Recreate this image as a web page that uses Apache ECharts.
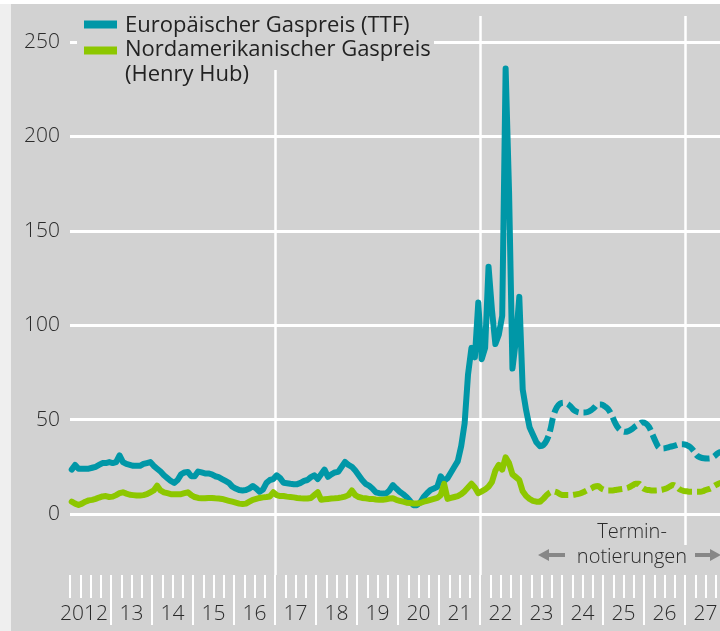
<!DOCTYPE html>
<html>
<head>
<meta charset="utf-8">
<script src="https://cdn.jsdelivr.net/npm/echarts@6/dist/echarts.min.js"></script>
<style>
  html, body { margin: 0; padding: 0; background: #d2d2d2; }
  #chart { width: 720px; height: 631px; }
</style>
</head>
<body>
<div id="chart"></div>
<script>
// monthly values, first point = Jan 2012
const startYear = 2012
// Europäischer Gaspreis (TTF), Jan 2012 - Jun 2023
const ttfHist = [
  23.5, 26, 24, 24, 24, 24, 24.5, 25, 26, 27, 27, 27.5,
  27, 27.5, 31, 27.5, 26.5, 26, 25.5, 25.5, 25.5, 26.5, 27, 27.5,
  25.5, 24, 22.5, 20.5, 19, 17.5, 16.5, 18, 21, 22, 22.3, 20,
  20, 22.5, 22, 21.5, 21.5, 21, 20, 19.5, 18.5, 17.5, 16.5, 14.5,
  13.5, 12.7, 12.5, 12.7, 13.5, 14.8, 13.5, 11.8, 13, 16.5, 18, 18.5,
  20.5, 19, 16.5, 16.3, 16, 15.8, 15.8, 16.5, 17.5, 18, 19.5, 20.5,
  18.5, 21, 23.5, 19.7, 21, 22, 22.3, 25, 27.6, 26, 25, 23,
  20.5, 18, 16, 15, 13.5, 11.5, 11, 10.8, 10.9, 12.5, 15.3, 13.5,
  11.8, 10.5, 9, 7, 4.7, 4.7, 6, 9, 11, 12.7, 13.5, 14.4,
  20, 17.5, 19, 22, 25, 28, 36, 48, 74, 88, 83, 112,
  82, 88, 131, 108, 90, 95, 105, 236, 171, 77, 92, 115,
  66, 55, 46, 42, 38, 36
]
// Nordamerikanischer Gaspreis (Henry Hub), Jan 2012 - Jun 2023
const hhHist = [
  6.5, 5.5, 4.8, 5.5, 6.5, 7.2, 7.5, 8, 8.7, 9.3, 9.5, 9,
  9.2, 10, 11, 11.5, 10.8, 10.2, 10, 9.8, 9.8, 10, 10.5, 11.5,
  12.5, 15, 12.5, 11.5, 11, 10.5, 10.5, 10.5, 10.5, 11, 11.5, 10,
  9, 8.5, 8.3, 8.3, 8.5, 8.5, 8.3, 8.2, 8, 7.5, 7, 6.5,
  6, 5.5, 5.3, 5.5, 6.5, 7.5, 8, 8.5, 8.8, 9, 9.3, 11.5,
  10, 9.5, 9.5, 9.2, 9, 8.8, 8.5, 8.3, 8.2, 8.2, 8.5, 10,
  11.5, 7.5, 7.8, 8, 8.2, 8.3, 8.5, 8.8, 9.2, 10, 12.5, 10,
  9, 8.5, 8.3, 8, 8, 7.7, 7.5, 7.5, 7.8, 8.2, 8.3, 7.5,
  7, 6.5, 6, 5.8, 5.6, 5.6, 5.8, 6.5, 7, 7.5, 8, 8.5,
  10, 16, 8, 8.5, 9, 9.5, 10.5, 12, 14, 16, 14, 11,
  12, 13, 14.5, 17, 23, 26, 23.5, 30, 27, 21, 19.5, 18,
  12, 9.5, 8, 7, 6.5, 6.5
]
// Terminnotierungen, Jun 2023 - Nov 2027
const fwdStart = 137
const ttfFwd = [
  36, 36.5, 39, 44, 52, 56.5, 58.5,
  59, 58.5, 57, 55, 54, 53.7, 53.7, 54, 55, 56.5, 58, 58,
  57, 55.5, 52.5, 48.5, 45.5, 44, 43.5, 44, 45, 46.5, 47.5, 48.5,
  48, 46, 42, 38, 35, 34.7, 35, 35.5, 36, 36.5, 37, 37,
  36.5, 35.5, 33.5, 31, 30, 29.5, 29.4, 29.5, 30.5, 32, 33
]
const hhFwd = [
  6.5, 8, 10, 11.5, 12, 11.5, 10.5,
  10, 10, 10, 10.2, 10.5, 11, 11.8, 12.7, 13.5, 14.5, 14.8, 13.5,
  12.7, 12.5, 12.5, 12.7, 13, 13.2, 13.5, 14, 15, 16, 16, 14,
  13, 12.7, 12.5, 12.5, 12.7, 13, 13.5, 14.5, 15.3, 14.5, 13, 12.3,
  12, 11.8, 11.8, 11.8, 11.8, 12.3, 13, 13.6, 14.8, 15.8, 16.5
]
const yearLabels = ['2012', '13', '14', '15', '16', '17', '18', '19', '20', '21', '22', '23', '24', '25', '26', '27']

const teal = '#0097a7'
const green = '#8dc700'
const bg = '#d2d2d2'
const textColor = '#2b2b2b'
const font = '"Open Sans", "Noto Sans", sans-serif'

function toPoints(values, offset) {
  return values.map((v, i) => [startYear + (offset + i + 0.5) / 12, v])
}

function lineSeries(data, color, dashed, z) {
  return {
    type: 'line',
    xAxisIndex: 0,
    yAxisIndex: 0,
    data: data,
    showSymbol: false,
    smooth: dashed ? 0.4 : false,
    z: z,
    lineStyle: {
      color: color,
      width: 6,
      type: dashed ? [14, 5] : 'solid',
      cap: dashed ? 'butt' : 'round',
      join: 'round'
    },
    animation: false
  }
}

const chart = echarts.init(document.getElementById('chart'))

chart.setOption({
  backgroundColor: bg,
  animation: false,
  grid: [
    { left: 70, right: -6, top: 42, bottom: 117, outerBoundsMode: 'none' },
    { left: 70, right: -6, top: 16, bottom: 56, outerBoundsMode: 'none' }
  ],
  xAxis: [
    { gridIndex: 0, type: 'value', min: 2012, max: 2028, show: false },
    {
      gridIndex: 1,
      type: 'category',
      data: yearLabels,
      boundaryGap: true,
      position: 'bottom',
      axisLine: { show: false, onZero: false },
      axisTick: {
        show: true,
        inside: false,
        length: 50,
        interval: (i) => i > 0,
        lineStyle: { color: '#fff', width: 2 }
      },
      axisLabel: {
        interval: 0,
        margin: 29,
        fontSize: 21,
        fontFamily: font,
        fontWeight: 300,
        color: textColor,
        formatter: (v, i) => i === 0 ? '{first|' + v + '}' : v,
        rich: {
          first: { fontSize: 21, fontFamily: font, fontWeight: 300, color: textColor, padding: [0, 13, 0, 0] }
        }
      },
      splitLine: {
        show: true,
        interval: (i) => i > 0 && i % 5 === 0,
        lineStyle: { color: '#fff', width: 2.5 }
      }
    },
    {
      gridIndex: 1,
      type: 'value',
      min: 2012,
      max: 2028,
      interval: 0.25,
      position: 'bottom',
      axisLine: { show: false, onZero: false },
      axisTick: { show: true, inside: false, length: 23, lineStyle: { color: '#fff', width: 2 } },
      axisLabel: { show: false },
      splitLine: { show: false }
    }
  ],
  yAxis: [
    {
      gridIndex: 0,
      type: 'value',
      min: 0,
      max: 250,
      interval: 50,
      axisLine: { show: false },
      axisTick: { show: false },
      axisLabel: { margin: 10, fontSize: 21, fontFamily: font, fontWeight: 300, color: textColor },
      splitLine: { lineStyle: { color: '#fff', width: 3 } }
    },
    { gridIndex: 1, type: 'value', min: 0, max: 1, show: false }
  ],
  graphic: [
    { type: 'rect', shape: { x: 0, y: 0, width: 11, height: 631 }, style: { fill: '#efefef' }, z: 10 },
    { type: 'rect', shape: { x: 0, y: 0, width: 720, height: 4 }, style: { fill: '#fff' }, z: 10 },
    // legend
    { type: 'rect', shape: { x: 77, y: 8, width: 357, height: 62 }, style: { fill: bg }, z: 1 },
    { type: 'rect', shape: { x: 84, y: 20.5, width: 33, height: 8 }, style: { fill: teal }, z: 5 },
    { type: 'rect', shape: { x: 84, y: 46.5, width: 33, height: 8 }, style: { fill: green }, z: 5 },
    { type: 'text', x: 125, y: 26, style: { text: 'Europäischer Gaspreis (TTF)', font: '500 22px ' + font, fill: '#222', verticalAlign: 'middle' }, z: 5 },
    { type: 'text', x: 125, y: 50, style: { text: 'Nordamerikanischer Gaspreis', font: '500 22px ' + font, fill: '#222', verticalAlign: 'middle' }, z: 5 },
    { type: 'text', x: 125, y: 75, style: { text: '(Henry Hub)', font: '500 22px ' + font, fill: '#222', verticalAlign: 'middle' }, z: 5 },
    // Terminnotierungen
    { type: 'rect', shape: { x: 572, y: 545, width: 120, height: 30 }, style: { fill: bg }, z: 1 },
    { type: 'text', x: 632, y: 532, style: { text: 'Termin-', font: '300 20px ' + font, fill: textColor, align: 'center', verticalAlign: 'middle' }, z: 5 },
    { type: 'text', x: 632, y: 557, style: { text: 'notierungen', font: '300 20px ' + font, fill: textColor, align: 'center', verticalAlign: 'middle' }, z: 5 },
    {
      type: 'polygon',
      shape: { points: [[538, 555], [549, 549], [549, 553], [565, 553], [565, 557], [549, 557], [549, 561]] },
      style: { fill: '#878787' },
      z: 5
    },
    {
      type: 'polygon',
      shape: { points: [[695, 553], [710, 553], [710, 549], [721, 555], [710, 561], [710, 557], [695, 557]] },
      style: { fill: '#878787' },
      z: 5
    }
  ],
  series: [
    lineSeries(toPoints(ttfHist, 0), teal, false, 3),
    lineSeries(toPoints(ttfFwd, fwdStart), teal, true, 3),
    lineSeries(toPoints(hhHist, 0), green, false, 4),
    lineSeries(toPoints(hhFwd, fwdStart), green, true, 4)
  ]
})
</script>
</body>
</html>
